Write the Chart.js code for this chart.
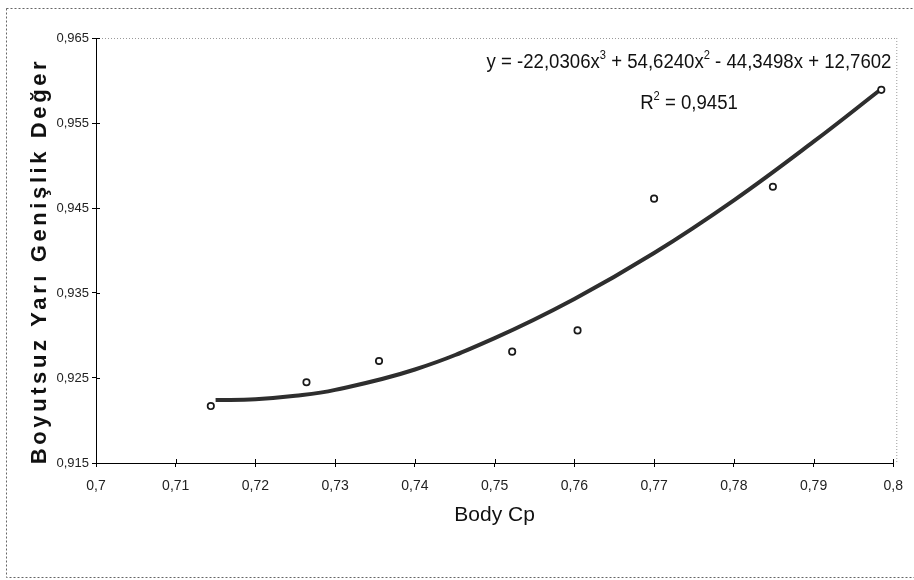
<!DOCTYPE html>
<html>
<head>
<meta charset="utf-8">
<script src="https://cdn.jsdelivr.net/npm/chart.js@4.4.1/dist/chart.umd.min.js"></script>
<style>
  html, body { margin: 0; padding: 0; background: #fff; }
  #wrap { width: 914px; height: 580px; position: relative; }
</style>
</head>
<body>
<div id="wrap"><canvas id="cpChart" width="914" height="580"></canvas></div>
<script>
// Data
const xTicks = [0.70, 0.71, 0.72, 0.73, 0.74, 0.75, 0.76, 0.77, 0.78, 0.79, 0.80];
const xTickLabels = ['0,7', '0,71', '0,72', '0,73', '0,74', '0,75', '0,76', '0,77', '0,78', '0,79', '0,8'];
const yTicks = [0.915, 0.925, 0.935, 0.945, 0.955, 0.965];
const yTickLabels = ['0,915', '0,925', '0,935', '0,945', '0,955', '0,965'];

// titik ukur
const pointX = [0.7144, 0.7264, 0.7355, 0.7522, 0.7604, 0.7700, 0.7849, 0.7985];
const pointY = [0.9217, 0.9245, 0.9270, 0.9281, 0.9306, 0.9461, 0.9475, 0.9589];

// garis trend (dibaca dari kurva)
const fitX = [0.715, 0.720, 0.725, 0.730, 0.740, 0.750, 0.760, 0.770, 0.780, 0.790, 0.7985];
const fitY = [0.9224, 0.9225, 0.9229, 0.9236, 0.9260, 0.9297, 0.9343, 0.9397, 0.9459, 0.9528, 0.9590];

const equationParts = [['y = -22,0306x', false], ['3', true], [' + 54,6240x', false], ['2', true], [' - 44,3498x + 12,7602', false]];
const r2Parts = [['R', false], ['2', true], [' = 0,9451', false]];
const yTitle = 'Boyutsuz Yarı Genişlik Değer';

const sans = "'Liberation Sans', Arial, sans-serif";

// Helper: teks dengan superscript, rata tengah, sedikit dipadatkan
const drawRichText = (ctx, parts, cx, baseline, size, sx) => {
    const mainFont = size + 'px ' + sans;
    const supFont = Math.round(size * 0.62) + 'px ' + sans;
    let total = 0;
    parts.forEach(([t, sup]) => {
        ctx.font = sup ? supFont : mainFont;
        total += ctx.measureText(t).width;
    });
    ctx.save();
    ctx.translate(cx, baseline);
    ctx.scale(sx, 1);
    let x = -total / 2;
    ctx.textAlign = 'left';
    ctx.textBaseline = 'alphabetic';
    parts.forEach(([t, sup]) => {
        ctx.font = sup ? supFont : mainFont;
        ctx.fillText(t, x, sup ? -size * 0.45 : 0);
        x += ctx.measureText(t).width;
    });
    ctx.restore();
};

const decorPlugin = {
    id: 'decor',
    beforeDraw(chart) {
        const { ctx, chartArea: a } = chart;
        ctx.save();
        ctx.fillStyle = '#fff';
        ctx.fillRect(0, 0, chart.width, chart.height);
        // bingkai luar
        ctx.strokeStyle = '#666';
        ctx.lineWidth = 1;
        ctx.setLineDash([2, 2]);
        ctx.strokeRect(6.5, 8.5, 930, 569);
        // batas atas & kanan area plot
        ctx.strokeStyle = '#9a9a9a';
        ctx.setLineDash([1, 2]);
        ctx.beginPath();
        ctx.moveTo(a.left, a.top + 0.5);
        ctx.lineTo(a.right + 3, a.top + 0.5);
        ctx.moveTo(a.right + 3.5, a.top);
        ctx.lineTo(a.right + 3.5, a.bottom);
        ctx.stroke();
        ctx.restore();
    },
    afterDraw(chart) {
        const { ctx, scales: { x, y } } = chart;
        ctx.save();
        // tick bagian dalam
        ctx.strokeStyle = '#000';
        ctx.lineWidth = 1;
        ctx.beginPath();
        xTicks.forEach(v => {
            const px = Math.round(x.getPixelForValue(v)) + 0.5;
            ctx.moveTo(px, y.bottom);
            ctx.lineTo(px, y.bottom - 4);
        });
        yTicks.forEach(v => {
            const py = Math.round(y.getPixelForValue(v)) + 0.5;
            ctx.moveTo(x.left, py);
            ctx.lineTo(x.left + 4, py);
        });
        ctx.stroke();

        // judul sumbu Y (bold, jarak huruf lebar)
        ctx.save();
        ctx.fillStyle = '#111';
        ctx.font = 'bold 22px ' + sans;
        ctx.letterSpacing = '3.6px';
        ctx.textAlign = 'center';
        ctx.textBaseline = 'alphabetic';
        ctx.translate(46, 261);
        ctx.rotate(-Math.PI / 2);
        ctx.fillText(yTitle, 0, 0);
        ctx.restore();

        // persamaan trend
        ctx.fillStyle = '#111';
        drawRichText(ctx, equationParts, 689, 68, 20, 0.93);
        drawRichText(ctx, r2Parts, 689, 109, 20, 0.93);
        ctx.restore();
    }
};

const ctx = document.getElementById('cpChart');

new Chart(ctx, {
    type: 'scatter',
    data: {
        datasets: [
            {
                label: 'Trend',
                type: 'line',
                data: fitX.map((v, i) => ({ x: v, y: fitY[i] })),
                borderColor: '#2e2e2e',
                borderWidth: 4,
                pointRadius: 0,
                fill: false,
                tension: 0.4,
                order: 2
            },
            {
                label: 'Data',
                data: pointX.map((v, i) => ({ x: v, y: pointY[i] })),
                pointStyle: 'circle',
                pointRadius: 3.2,
                pointBorderWidth: 1.7,
                pointBorderColor: '#1a1a1a',
                pointBackgroundColor: '#fff',
                order: 1
            }
        ]
    },
    options: {
        responsive: false,
        animation: false,
        devicePixelRatio: 1,
        layout: { padding: { top: 38, right: 15, bottom: 0, left: 0 } },
        plugins: {
            legend: { display: false },
            tooltip: { enabled: false }
        },
        scales: {
            x: {
                type: 'linear',
                min: 0.7,
                max: 0.8,
                afterFit: (s) => { s.height = 117; },
                afterBuildTicks: (s) => { s.ticks = xTicks.map(v => ({ value: v })); },
                ticks: {
                    color: '#222',
                    font: { family: sans, size: 14 },
                    padding: 11,
                    maxRotation: 0,
                    callback: (v, i) => xTickLabels[i]
                },
                grid: { display: true, drawOnChartArea: false, drawTicks: true, tickLength: 4, color: '#000' },
                border: { display: true, color: '#000', width: 1 },
                title: {
                    display: true,
                    text: 'Body Cp',
                    color: '#111',
                    font: { family: sans, size: 21 },
                    padding: { top: 0, bottom: 52 }
                }
            },
            y: {
                type: 'linear',
                min: 0.915,
                max: 0.965,
                afterFit: (s) => { s.width = 96; },
                afterBuildTicks: (s) => { s.ticks = yTicks.map(v => ({ value: v })); },
                ticks: {
                    color: '#222',
                    font: { family: sans, size: 13 },
                    padding: 3,
                    callback: (v, i) => yTickLabels[i]
                },
                grid: { display: true, drawOnChartArea: false, drawTicks: true, tickLength: 4, color: '#000' },
                border: { display: true, color: '#000', width: 1 },
                title: { display: false }
            }
        }
    },
    plugins: [decorPlugin]
});
</script>
</body>
</html>
